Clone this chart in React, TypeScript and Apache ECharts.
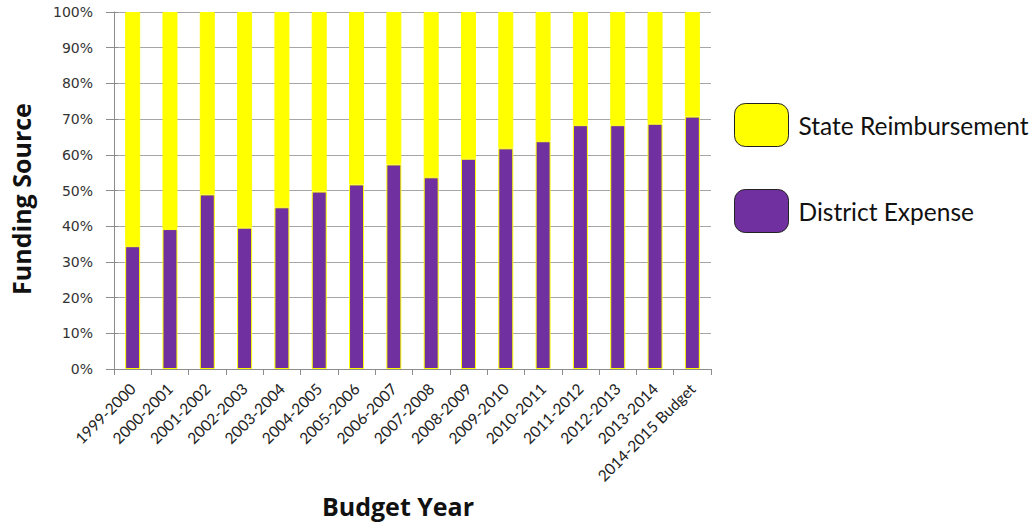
import React, { useEffect, useRef } from "react";
import * as echarts from "echarts";

const categories = [
  "1999-2000", "2000-2001", "2001-2002", "2002-2003", "2003-2004", "2004-2005",
  "2005-2006", "2006-2007", "2007-2008", "2008-2009", "2009-2010", "2010-2011",
  "2011-2012", "2012-2013", "2013-2014", "2014-2015 Budget",
];
const districtExpense = [34.4, 39.2, 48.9, 39.6, 45.3, 49.7, 51.7, 57.3, 53.7, 58.9, 61.8, 63.8, 68.3, 68.3, 68.7, 70.7];
const stateReimbursement = districtExpense.map((v) => +(100 - v).toFixed(1));
const xTitle = "Budget Year";
const yTitle = "Funding Source";

export default function App() {
  const ref = useRef<HTMLDivElement>(null);
  useEffect(() => {
    document.body.style.margin = "0";
    if (!ref.current) return;
    const chart = echarts.init(ref.current, null, { renderer: "svg" });
    const axisGray = "#8c8c8c";
    const titleStyle = { fontFamily: "Open Sans", fontWeight: "bold", fontSize: 25, fill: "#111", align: "center", verticalAlign: "middle" };
    chart.setOption({
      animation: false,
      backgroundColor: "#ffffff",
      grid: { left: 114, right: 325, top: 12, bottom: 153 },
      graphic: [
        { type: "text", x: 398, y: 506, style: { ...titleStyle, text: xTitle } },
        { type: "text", x: 21, y: 199, rotation: Math.PI / 2, style: { ...titleStyle, text: yTitle } },
      ],
      legend: {
        orient: "vertical",
        left: 734,
        top: 103,
        padding: 0,
        itemWidth: 54,
        itemHeight: 43,
        itemGap: 42,
        icon: "roundRect",
        selectedMode: false,
        data: [
          { name: "State Reimbursement", itemStyle: { color: "#FFFF00", borderColor: "#222", borderWidth: 1 } },
          { name: "District Expense", itemStyle: { color: "#7030A0", borderColor: "#222", borderWidth: 1 } },
        ],
        textStyle: { fontFamily: "Lato", fontSize: 24.5, color: "#111", padding: [0, 0, 0, 5] },
      },
      xAxis: {
        type: "category",
        data: categories,
        axisLine: { lineStyle: { color: axisGray } },
        axisTick: { show: true, alignWithLabel: false, length: 6, lineStyle: { color: axisGray } },
        axisLabel: { rotate: 45, interval: 0, fontFamily: "Lato", fontSize: 15.5, color: "#222", margin: 17 },
      },
      yAxis: [
        {
          type: "value",
          min: 0,
          max: 100,
          interval: 10,
          axisLine: { show: true, lineStyle: { color: axisGray } },
          axisTick: { show: true, length: 8, lineStyle: { color: axisGray } },
          axisLabel: { formatter: "{value}%", fontFamily: "DejaVu Sans", fontSize: 14, color: "#333", margin: 21 },
          splitLine: { lineStyle: { color: "#a6a6a6", width: 1 } },
        },
        {
          type: "value",
          min: 0,
          max: 100,
          interval: 10,
          position: "left",
          axisLine: { show: false },
          axisTick: { show: true, inside: true, length: 4, lineStyle: { color: axisGray } },
          axisLabel: { show: false },
          splitLine: { show: false },
        },
      ],
      series: [
        {
          name: "District Expense",
          type: "bar",
          stack: "total",
          barWidth: 15,
          data: districtExpense,
          itemStyle: { color: "#7030A0", borderColor: "#FFFF00", borderWidth: 1 },
        },
        {
          name: "State Reimbursement",
          type: "bar",
          stack: "total",
          barWidth: 15,
          data: stateReimbursement,
          itemStyle: { color: "#FFFF00", borderColor: "#FFFF00", borderWidth: 1 },
        },
      ],
    });
    return () => chart.dispose();
  }, []);
  return <div ref={ref} style={{ width: 1036, height: 522 }} />;
}
